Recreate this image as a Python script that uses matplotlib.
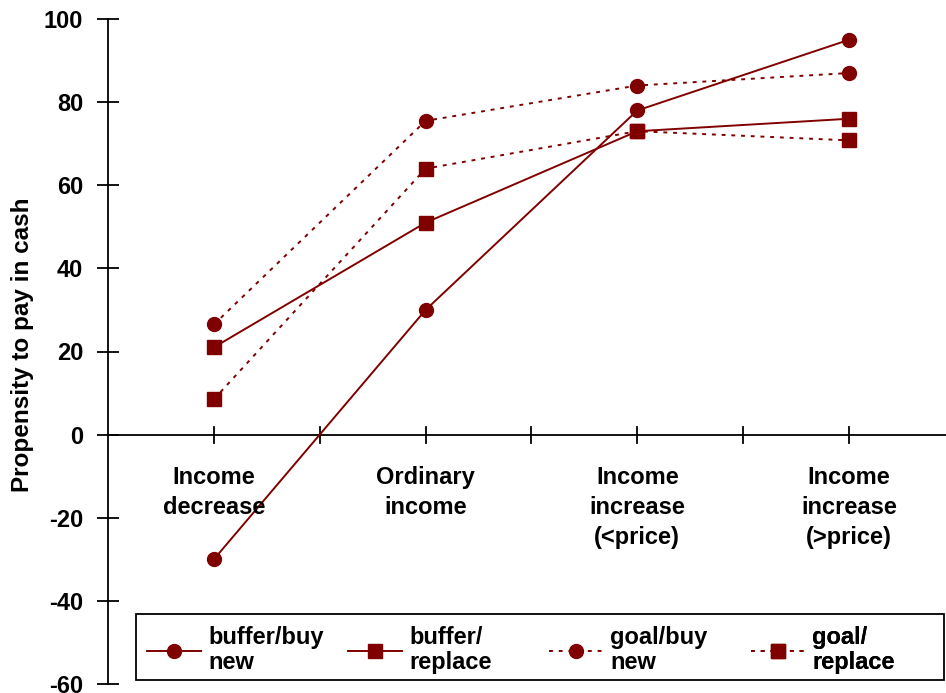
import matplotlib
matplotlib.use("Agg")
import matplotlib.pyplot as plt
from matplotlib.patches import Rectangle

plt.rcParams['font.family'] = ['Liberation Sans', 'DejaVu Sans']

categories = ["Income\ndecrease", "Ordinary\nincome", "Income\nincrease\n(<price)", "Income\nincrease\n(>price)"]
buffer_buy_new = [-30, 30, 78, 95]
buffer_replace = [21, 51, 73, 76]
goal_buy_new = [26.5, 75.5, 84, 87]
goal_replace = [8.5, 64, 73, 70.8]
y_ticks = [-60, -40, -20, 0, 20, 40, 60, 80, 100]
series_labels = ["buffer/buy\nnew", "buffer/\nreplace", "goal/buy\nnew", "goal/\nreplace"]

color = "#800000"
W, H = 946, 693
fig = plt.figure(figsize=(W/100, H/100), dpi=100)
ax = fig.add_axes([108/W, 1-684/H, 1-108/W, (684-19)/H])

x = list(range(len(categories)))
dot = (0, (2, 3))
lines = []
for vals, ls, mk, lab in [(buffer_buy_new, '-', 'o', series_labels[0]),
                          (buffer_replace, '-', 's', series_labels[1]),
                          (goal_buy_new, dot, 'o', series_labels[2]),
                          (goal_replace, dot, 's', series_labels[3])]:
    l, = ax.plot(x, vals, color=color, lw=1.4, ls=ls, marker=mk, ms=10, label=lab, clip_on=False, zorder=3)
    lines.append(l)

ax.set_xlim(-0.5, 3.458)
ax.set_ylim(-60, 100)
for s in ['top', 'right', 'bottom']:
    ax.spines[s].set_visible(False)
ax.spines['left'].set_linewidth(1.3)
ax.axhline(0, color='black', lw=1.3, zorder=1)
ax.set_yticks(y_ticks)
ax.set_yticklabels([str(v) for v in y_ticks], fontsize=17, fontweight='bold')
ax.tick_params(axis='y', direction='inout', length=16, width=1.3, pad=10)
ax.set_xticks([])
for t in [0, 0.5, 1, 1.5, 2, 2.5, 3]:
    ax.plot([t, t], [-1.9, 1.9], color='black', lw=1.3, zorder=1)
for xi, lab in zip(x, categories):
    ax.text(xi, -7.6, lab, ha='center', va='top', fontsize=17, fontweight='bold', linespacing=1.38)

ax.set_ylabel("Propensity to pay in cash", fontsize=17.5, fontweight='bold')
ax.yaxis.set_label_coords((34-108)/(W-108), 0.51)

# legend frame
fig.add_artist(Rectangle((136/W, 1-680/H), (944-136)/W, 66/H, transform=fig.transFigure,
                         fill=False, edgecolor='black', lw=1.3))
starts = [147, 348, 549, 751]
for l, xs in zip(lines, starts):
    lg = ax.legend(handles=[l], loc='center left', bbox_to_anchor=(xs/W, 1-650/H),
                   bbox_transform=fig.transFigure, frameon=False, handlelength=2.3,
                   handletextpad=0.3, borderaxespad=0, borderpad=0,
                   prop={'size': 17, 'weight': 'bold'})
    for t in lg.get_texts():
        t.set_linespacing(1.15)
    ax.add_artist(lg)

fig.savefig("out.png", dpi=100)
